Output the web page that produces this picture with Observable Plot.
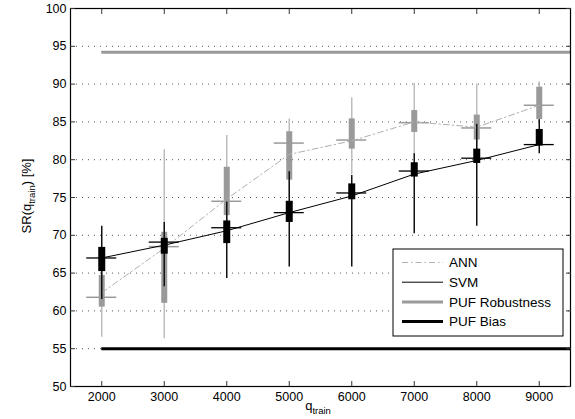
<!DOCTYPE html>
<html>
<head>
<meta charset="utf-8">
<script src="https://cdn.jsdelivr.net/npm/d3@7"></script>
<script src="https://cdn.jsdelivr.net/npm/@observablehq/plot@0.6"></script>
<style>
  html, body { margin: 0; padding: 0; background: #fff; }
  #chart { width: 575px; height: 419px; }
</style>
</head>
<body>
<div id="chart"></div>
<script>
// ---- data ----
const qTrain   = [2000, 3000, 4000, 5000, 6000, 7000, 8000, 9000];
const annLow   = [56.5, 56.3, 69.0, 75.0, 78.0, 80.5, 80.0, 85.0];
const annQ1    = [60.5, 61.0, 72.6, 77.3, 81.4, 83.6, 82.6, 85.3];
const annMed   = [61.8, 68.5, 74.5, 82.2, 82.6, 84.9, 84.2, 87.2];
const annQ3    = [64.7, 70.4, 79.0, 83.7, 85.4, 86.5, 85.9, 89.6];
const annHigh  = [68.0, 81.3, 83.2, 85.4, 88.2, 90.1, 90.0, 90.3];
const annMean  = [62.4, 68.3, 74.8, 80.7, 82.5, 85.0, 84.3, 87.2];
const svmLow   = [61.5, 63.2, 64.3, 65.8, 65.8, 70.2, 71.2, 80.8];
const svmQ1    = [65.2, 67.5, 68.9, 71.7, 74.7, 77.7, 79.5, 81.8];
const svmMed   = [67.0, 69.1, 71.0, 73.0, 75.6, 78.5, 80.2, 82.0];
const svmQ3    = [68.4, 69.6, 71.9, 74.5, 76.8, 79.6, 81.4, 84.0];
const svmHigh  = [71.2, 71.7, 74.4, 78.4, 77.9, 80.8, 84.7, 85.3];
const svmMean  = [67.0, 68.7, 70.6, 73.0, 75.2, 78.1, 79.9, 82.0];
const pufRobustness = 94.2;
const pufBias = 55;
const xTicks = [2000, 3000, 4000, 5000, 6000, 7000, 8000, 9000];
const yTicks = [50, 55, 60, 65, 70, 75, 80, 85, 90, 95, 100];
const legendLabels = ["ANN", "SVM", "PUF Robustness", "PUF Bias"];

// ---- tables built from the arrays ----
const ann = qTrain.map((q, i) => ({q, lo: annLow[i], q1: annQ1[i], med: annMed[i], q3: annQ3[i], hi: annHigh[i], mean: annMean[i]}));
const svm = qTrain.map((q, i) => ({q, lo: svmLow[i], q1: svmQ1[i], med: svmMed[i], q3: svmQ3[i], hi: svmHigh[i], mean: svmMean[i]}));
const refLines = [
  {name: "PUF Robustness", y: pufRobustness, x1: 2000, x2: 9500},
  {name: "PUF Bias", y: pufBias, x1: 2000, x2: 9500}
];
const halfCross = 240;
const font = "Liberation Sans, Arial, Helvetica, sans-serif";
const tickFont = 12.5;
const labelFont = 13;

const svg = Plot.plot({
  width: 575,
  height: 419,
  marginLeft: 70,
  marginRight: 5,
  marginTop: 8,
  marginBottom: 33,
  style: {fontFamily: font, fontSize: "12px", background: "#fff", color: "#000"},
  x: {domain: [1500, 9500], ticks: xTicks},
  y: {domain: [50, 100], ticks: yTicks},
  marks: [
    Plot.gridY(yTicks.slice(1, -1), {stroke: "#222", strokeOpacity: 0.75, strokeDasharray: "1,5"}),
    Plot.ruleY(refLines.slice(0, 1), {y: "y", x1: "x1", x2: "x2", stroke: "#9a9a9a", strokeWidth: 3}),
    Plot.ruleY(refLines.slice(1), {y: "y", x1: "x1", x2: "x2", stroke: "#000", strokeWidth: 3}),
    // ANN
    Plot.ruleX(ann, {x: "q", y1: "lo", y2: "hi", stroke: "#bdbdbd", strokeWidth: 1.5}),
    Plot.ruleX(ann, {x: "q", y1: "q1", y2: "q3", stroke: "#9a9a9a", strokeWidth: 6}),
    Plot.ruleY(ann, {y: "med", x1: d => d.q - halfCross, x2: d => d.q + halfCross, stroke: "#9a9a9a", strokeWidth: 1.5}),
    Plot.line(ann, {x: "q", y: "mean", stroke: "#b0b0b0", strokeWidth: 1, strokeDasharray: "6,3,1.5,3"}),
    // SVM
    Plot.ruleX(svm, {x: "q", y1: "lo", y2: "hi", stroke: "#111", strokeWidth: 1.5}),
    Plot.ruleX(svm, {x: "q", y1: "q1", y2: "q3", stroke: "#000", strokeWidth: 7}),
    Plot.ruleY(svm, {y: "med", x1: d => d.q - halfCross, x2: d => d.q + halfCross, stroke: "#000", strokeWidth: 1.3}),
    Plot.line(svm, {x: "q", y: "mean", stroke: "#000", strokeWidth: 1}),
    // frame & axes
    Plot.frame({stroke: "#000", strokeWidth: 1.2}),
    Plot.axisX({anchor: "bottom", ticks: xTicks, tickSize: -5, text: null, stroke: "#333"}),
    Plot.axisX({anchor: "top", ticks: xTicks, tickSize: -5, text: null, stroke: "#333"}),
    Plot.axisY({anchor: "left", ticks: yTicks, tickSize: -5, text: null, stroke: "#333"}),
    Plot.axisY({anchor: "right", ticks: yTicks, tickSize: -5, text: null, stroke: "#333"}),
    Plot.axisX({anchor: "bottom", ticks: xTicks, tickSize: 0, tickPadding: 6, label: null, fontSize: tickFont, tickFormat: d => String(d)}),
    Plot.axisY({anchor: "left", ticks: yTicks, tickSize: 0, tickPadding: 4, label: null, fontSize: tickFont, tickFormat: d => String(d)})
  ]
});
document.getElementById("chart").appendChild(svg);

const s = d3.select(svg);
// y-axis label with subscript
const yl = s.append("text")
  .attr("transform", "translate(31,196) rotate(-90)")
  .attr("text-anchor", "middle")
  .attr("font-family", font).attr("font-size", labelFont).attr("fill", "#000");
yl.append("tspan").text("SR(q");
yl.append("tspan").attr("font-size", 9.5).attr("dy", 3.5).text("train");
yl.append("tspan").attr("dy", -3.5).text(") [%]");
// x-axis label with subscript
const xl = s.append("text")
  .attr("x", 318).attr("y", 410)
  .attr("text-anchor", "middle")
  .attr("font-family", font).attr("font-size", labelFont).attr("fill", "#000");
xl.append("tspan").text("q");
xl.append("tspan").attr("font-size", 9.5).attr("dy", 3.5).text("train");

// legend
const lg = s.append("g").attr("transform", "translate(393,249)");
lg.append("rect").attr("width", 170).attr("height", 87).attr("fill", "#fff").attr("stroke", "#000").attr("stroke-width", 1);
const legStyles = [
  {stroke: "#b0b0b0", w: 1, dash: "6,3,1.5,3"},
  {stroke: "#000", w: 1, dash: null},
  {stroke: "#9a9a9a", w: 3, dash: null},
  {stroke: "#000", w: 3, dash: null}
];
legendLabels.forEach((lab, i) => {
  const y = 13.5 + i * 19.7;
  lg.append("line").attr("x1", 9).attr("x2", 50).attr("y1", y).attr("y2", y)
    .attr("stroke", legStyles[i].stroke).attr("stroke-width", legStyles[i].w)
    .attr("stroke-dasharray", legStyles[i].dash);
  lg.append("text").attr("x", 56).attr("y", y).attr("dy", "0.35em")
    .attr("text-anchor", "start")
    .attr("font-family", font).attr("font-size", 13.5).attr("fill", "#000").text(lab);
});
</script>
</body>
</html>
